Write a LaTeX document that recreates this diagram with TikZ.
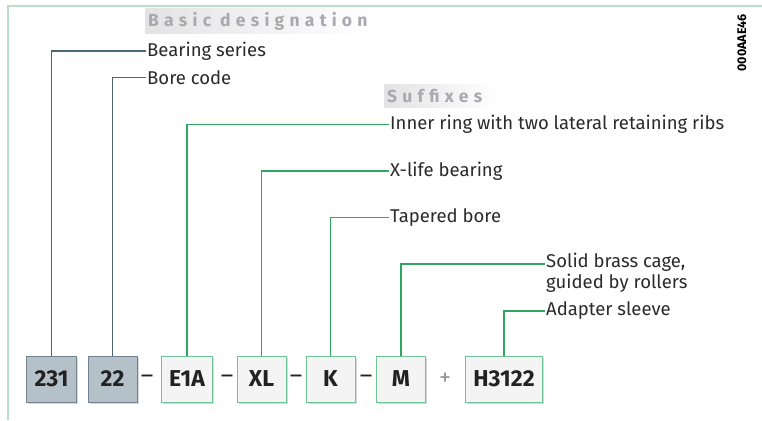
\documentclass[tikz,border=0pt]{standalone}
\usepackage{fontspec}
\setmainfont{Fira Sans}
\usetikzlibrary{shadows}

\definecolor{framegreen}{HTML}{B9DFC6}
\definecolor{greyfill}{HTML}{B5C1C9}
\definecolor{greyedge}{HTML}{72828E}
\definecolor{greenfill}{HTML}{F4F4F4}
\definecolor{greenedge}{HTML}{6CC497}
\definecolor{basicline}{HTML}{4D6575}
\definecolor{sfxline}{HTML}{2FA763}
\definecolor{boxtext}{HTML}{222222}
\definecolor{lbltext}{HTML}{2A2A2A}
\definecolor{headtext}{HTML}{A9A9AF}

\tikzset{
  basebox/.style={minimum height=46pt, minimum width=49pt, inner xsep=8pt,
    line width=1pt, text=boxtext, font=\fontsize{23}{26}\selectfont\bfseries,
    drop shadow={shadow xshift=1.5pt, shadow yshift=-1.5pt, opacity=0.3}},
  greybox/.style={basebox, draw=greyedge, fill=greyfill},
  greenbox/.style={basebox, draw=greenedge, fill=greenfill},
  lbl/.style={anchor=west, inner sep=1pt, text=lbltext, align=left,
    font=\fontsize{18.5}{20.5}\selectfont},
  heading/.style={anchor=west, minimum height=23pt, inner sep=3pt,
    left color=black!11, right color=white, text=headtext,
    font=\fontsize{17.5}{20}\selectfont\bfseries\addfontfeature{LetterSpace=30}},
  joiner/.style={inner sep=0pt, font=\fontsize{24}{26}\selectfont},
  basic/.style={draw=basicline, line width=1.2pt},
  sfx/.style={draw=sfxline, line width=1.2pt},
}

\begin{document}
\begin{tikzpicture}[x=1pt, y=-1pt]
  \useasboundingbox (0,0) rectangle (762,420);
  % frame
  \draw[framegreen, line width=1.5pt] (8,420) -- (8,6) -- (762,6);
  \node[rotate=90, font=\fontsize{12.5}{14}\selectfont\bfseries] (docid) at (742,43) {000AAE46};

  % headings
  \node[heading, minimum width=225pt, text width=219pt] (hbasic) at (145,21) {Basic\hspace{9pt}designation};
  \node[heading, minimum width=113pt, text width=107pt] (hsfx) at (384,96) {Suffixes};

  % designation
  \node[greybox] (n231) at (51.5,379) {231};
  \node[greybox] (n22) at (112.5,379) {22};
  \node[greenbox] (E1A) at (187,379) {E1A};
  \node[greenbox] (XL) at (261.5,379) {XL};
  \node[greenbox] (K) at (330.5,379) {K};
  \node[greenbox] (M) at (401,379) {M};
  \node[greenbox] (H3122) at (504,379) {H3122};

  \node[joiner, text=boxtext] (j1) at (147,379) {–};
  \node[joiner, text=boxtext] (j2) at (227,379) {–};
  \node[joiner, text=boxtext] (j3) at (296,379) {–};
  \node[joiner, text=boxtext] (j4) at (366,379) {–};
  \node[joiner, text=black!40] (j5) at (445,379) {+};

  % labels
  \node[lbl] (series) at (146,51) {Bearing series};
  \node[lbl] (bore) at (146,77.5) {Bore code};
  \node[lbl] (ribs) at (389,124.5) {Inner ring with two lateral retaining ribs};
  \node[lbl] (xlife) at (389,171) {X-life bearing};
  \node[lbl] (taper) at (389,217.5) {Tapered bore};
  \node[lbl, anchor=north west] (cage) at (545,252) {Solid brass cage,\\guided by rollers};
  \node[lbl] (sleeve) at (545,311) {Adapter sleeve};

  % leaders
  \draw[basic] (n231.north) |- (series.west);
  \draw[basic] (n22.north) |- (bore.west);
  \draw[sfx] (E1A.north) |- (ribs.west);
  \draw[sfx] (XL.north) |- (xlife.west);
  \draw[sfx] (K.north) |- (taper.west);
  \draw[sfx] (M.north) |- ([yshift=-12pt]cage.north west);
  \draw[sfx] (H3122.north) |- (sleeve.west);
\end{tikzpicture}
\end{document}
